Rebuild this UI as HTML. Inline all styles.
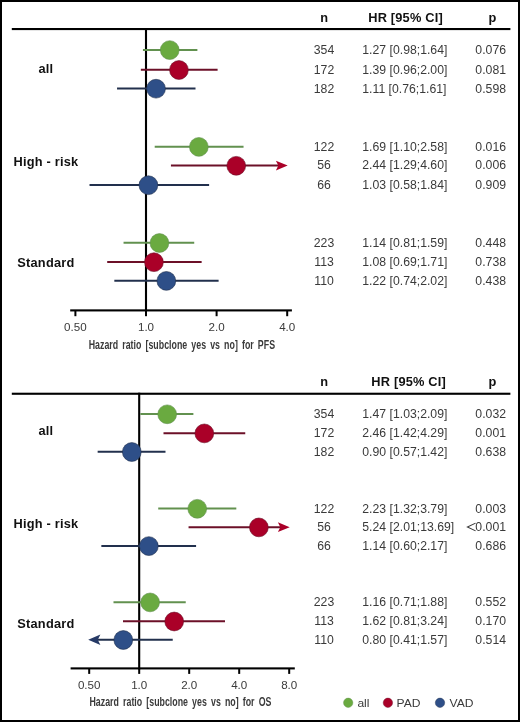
<!DOCTYPE html>
<html><head><meta charset="utf-8"><style>
html,body{margin:0;padding:0;background:#fff;}
body{width:520px;height:722px;overflow:hidden;position:relative;}
svg{position:absolute;left:0;top:0;font-family:"Liberation Sans", sans-serif;will-change:transform;}
.frame{position:absolute;left:0;top:0;width:516px;height:718px;border:2px solid #000;}
</style></head><body>
<svg width="520" height="722" viewBox="0 0 520 722">
<text x="324.20" y="21.70" font-size="12.8" text-anchor="middle" font-weight="bold" fill="#111" >n</text>
<text x="368.20" y="21.70" font-size="12.8" text-anchor="start" font-weight="bold" fill="#111" letter-spacing="0.2" >HR [95% CI]</text>
<text x="492.50" y="21.70" font-size="12.8" text-anchor="middle" font-weight="bold" fill="#111" >p</text>
<rect x="11.80" y="28.00" width="498.60" height="2.10" fill="#000"/>
<rect x="144.95" y="28.00" width="2.10" height="283.40" fill="#000"/>
<rect x="70.20" y="309.35" width="221.70" height="2.10" fill="#000"/>
<rect x="74.40" y="310.40" width="2.00" height="5.80" fill="#000"/>
<text x="75.40" y="330.80" font-size="11.6" text-anchor="middle" font-weight="normal" fill="#3a3a3a" >0.50</text>
<rect x="145.00" y="310.40" width="2.00" height="5.80" fill="#000"/>
<text x="146.00" y="330.80" font-size="11.6" text-anchor="middle" font-weight="normal" fill="#3a3a3a" >1.0</text>
<rect x="215.60" y="310.40" width="2.00" height="5.80" fill="#000"/>
<text x="216.60" y="330.80" font-size="11.6" text-anchor="middle" font-weight="normal" fill="#3a3a3a" >2.0</text>
<rect x="286.20" y="310.40" width="2.00" height="5.80" fill="#000"/>
<text x="287.20" y="330.80" font-size="11.6" text-anchor="middle" font-weight="normal" fill="#3a3a3a" >4.0</text>
<text x="0" y="0" font-size="13.6" font-weight="bold" fill="#3a3a3a" word-spacing="2.57" transform="translate(88.70,348.80) scale(0.65,1)">Hazard ratio [subclone yes vs no] for PFS</text>
<text x="45.90" y="72.80" font-size="12.8" text-anchor="middle" font-weight="bold" fill="#111" letter-spacing="0.2" >all</text>
<text x="45.90" y="166.40" font-size="12.8" text-anchor="middle" font-weight="bold" fill="#111" letter-spacing="0.2" >High - risk</text>
<text x="45.90" y="267.10" font-size="12.8" text-anchor="middle" font-weight="bold" fill="#111" letter-spacing="0.2" >Standard</text>
<line x1="143.94" y1="49.90" x2="196.39" y2="49.90" stroke="#62914f" stroke-width="2" stroke-linecap="square"/>
<circle cx="169.74" cy="50.10" r="9.4" fill="#6aaa40" stroke="#62914f" stroke-width="0.8" stroke-opacity="0.75"/>
<text x="0" y="0" font-size="11.9" text-anchor="middle" fill="#3a3a3a" transform="translate(324.00,53.70) scale(1.03,1)">354</text>
<text x="0" y="0" font-size="11.9" text-anchor="start" fill="#3a3a3a" transform="translate(362.30,53.70) scale(1.03,1)">1.27 [0.98;1.64]</text>
<text x="0" y="0" font-size="11.9" text-anchor="end" fill="#3a3a3a" transform="translate(506.00,53.70) scale(1.03,1)">0.076</text>
<line x1="141.84" y1="69.80" x2="216.60" y2="69.80" stroke="#6c1028" stroke-width="2" stroke-linecap="square"/>
<circle cx="178.94" cy="70.00" r="9.4" fill="#aa0028" stroke="#6c1028" stroke-width="0.8" stroke-opacity="0.75"/>
<text x="0" y="0" font-size="11.9" text-anchor="middle" fill="#3a3a3a" transform="translate(324.00,73.70) scale(1.03,1)">172</text>
<text x="0" y="0" font-size="11.9" text-anchor="start" fill="#3a3a3a" transform="translate(362.30,73.70) scale(1.03,1)">1.39 [0.96;2.00]</text>
<text x="0" y="0" font-size="11.9" text-anchor="end" fill="#3a3a3a" transform="translate(506.00,73.70) scale(1.03,1)">0.081</text>
<line x1="118.05" y1="88.50" x2="194.51" y2="88.50" stroke="#22304d" stroke-width="2" stroke-linecap="square"/>
<circle cx="156.03" cy="88.70" r="9.4" fill="#2e4f88" stroke="#22304d" stroke-width="0.8" stroke-opacity="0.75"/>
<text x="0" y="0" font-size="11.9" text-anchor="middle" fill="#3a3a3a" transform="translate(324.00,92.60) scale(1.03,1)">182</text>
<text x="0" y="0" font-size="11.9" text-anchor="start" fill="#3a3a3a" transform="translate(362.30,92.60) scale(1.03,1)">1.11 [0.76;1.61]</text>
<text x="0" y="0" font-size="11.9" text-anchor="end" fill="#3a3a3a" transform="translate(506.00,92.60) scale(1.03,1)">0.598</text>
<line x1="155.71" y1="146.70" x2="242.54" y2="146.70" stroke="#62914f" stroke-width="2" stroke-linecap="square"/>
<circle cx="198.85" cy="146.90" r="9.4" fill="#6aaa40" stroke="#62914f" stroke-width="0.8" stroke-opacity="0.75"/>
<text x="0" y="0" font-size="11.9" text-anchor="middle" fill="#3a3a3a" transform="translate(324.00,150.70) scale(1.03,1)">122</text>
<text x="0" y="0" font-size="11.9" text-anchor="start" fill="#3a3a3a" transform="translate(362.30,150.70) scale(1.03,1)">1.69 [1.10;2.58]</text>
<text x="0" y="0" font-size="11.9" text-anchor="end" fill="#3a3a3a" transform="translate(506.00,150.70) scale(1.03,1)">0.016</text>
<line x1="171.94" y1="165.60" x2="279.70" y2="165.60" stroke="#6c1028" stroke-width="2" stroke-linecap="square"/>
<path d="M287.70,165.60 L275.90,160.70 L278.30,165.60 L275.90,170.50 Z" fill="#aa0028"/>
<circle cx="236.25" cy="165.80" r="9.4" fill="#aa0028" stroke="#6c1028" stroke-width="0.8" stroke-opacity="0.75"/>
<text x="0" y="0" font-size="11.9" text-anchor="middle" fill="#3a3a3a" transform="translate(324.00,169.30) scale(1.03,1)">56</text>
<text x="0" y="0" font-size="11.9" text-anchor="start" fill="#3a3a3a" transform="translate(362.30,169.30) scale(1.03,1)">2.44 [1.29;4.60]</text>
<text x="0" y="0" font-size="11.9" text-anchor="end" fill="#3a3a3a" transform="translate(506.00,169.30) scale(1.03,1)">0.006</text>
<line x1="90.52" y1="185.00" x2="208.11" y2="185.00" stroke="#22304d" stroke-width="2" stroke-linecap="square"/>
<circle cx="148.41" cy="185.20" r="9.4" fill="#2e4f88" stroke="#22304d" stroke-width="0.8" stroke-opacity="0.75"/>
<text x="0" y="0" font-size="11.9" text-anchor="middle" fill="#3a3a3a" transform="translate(324.00,188.50) scale(1.03,1)">66</text>
<text x="0" y="0" font-size="11.9" text-anchor="start" fill="#3a3a3a" transform="translate(362.30,188.50) scale(1.03,1)">1.03 [0.58;1.84]</text>
<text x="0" y="0" font-size="11.9" text-anchor="end" fill="#3a3a3a" transform="translate(506.00,188.50) scale(1.03,1)">0.909</text>
<line x1="124.54" y1="242.80" x2="193.23" y2="242.80" stroke="#62914f" stroke-width="2" stroke-linecap="square"/>
<circle cx="159.45" cy="243.00" r="9.4" fill="#6aaa40" stroke="#62914f" stroke-width="0.8" stroke-opacity="0.75"/>
<text x="0" y="0" font-size="11.9" text-anchor="middle" fill="#3a3a3a" transform="translate(324.00,246.70) scale(1.03,1)">223</text>
<text x="0" y="0" font-size="11.9" text-anchor="start" fill="#3a3a3a" transform="translate(362.30,246.70) scale(1.03,1)">1.14 [0.81;1.59]</text>
<text x="0" y="0" font-size="11.9" text-anchor="end" fill="#3a3a3a" transform="translate(506.00,246.70) scale(1.03,1)">0.448</text>
<line x1="108.21" y1="262.00" x2="200.64" y2="262.00" stroke="#6c1028" stroke-width="2" stroke-linecap="square"/>
<circle cx="153.94" cy="262.20" r="9.4" fill="#aa0028" stroke="#6c1028" stroke-width="0.8" stroke-opacity="0.75"/>
<text x="0" y="0" font-size="11.9" text-anchor="middle" fill="#3a3a3a" transform="translate(324.00,265.70) scale(1.03,1)">113</text>
<text x="0" y="0" font-size="11.9" text-anchor="start" fill="#3a3a3a" transform="translate(362.30,265.70) scale(1.03,1)">1.08 [0.69;1.71]</text>
<text x="0" y="0" font-size="11.9" text-anchor="end" fill="#3a3a3a" transform="translate(506.00,265.70) scale(1.03,1)">0.738</text>
<line x1="115.33" y1="280.70" x2="217.61" y2="280.70" stroke="#22304d" stroke-width="2" stroke-linecap="square"/>
<circle cx="166.35" cy="280.90" r="9.4" fill="#2e4f88" stroke="#22304d" stroke-width="0.8" stroke-opacity="0.75"/>
<text x="0" y="0" font-size="11.9" text-anchor="middle" fill="#3a3a3a" transform="translate(324.00,284.80) scale(1.03,1)">110</text>
<text x="0" y="0" font-size="11.9" text-anchor="start" fill="#3a3a3a" transform="translate(362.30,284.80) scale(1.03,1)">1.22 [0.74;2.02]</text>
<text x="0" y="0" font-size="11.9" text-anchor="end" fill="#3a3a3a" transform="translate(506.00,284.80) scale(1.03,1)">0.438</text>
<text x="324.20" y="386.30" font-size="12.8" text-anchor="middle" font-weight="bold" fill="#111" >n</text>
<text x="371.30" y="386.30" font-size="12.8" text-anchor="start" font-weight="bold" fill="#111" letter-spacing="0.2" >HR [95% CI]</text>
<text x="492.50" y="386.30" font-size="12.8" text-anchor="middle" font-weight="bold" fill="#111" >p</text>
<rect x="11.80" y="392.70" width="498.60" height="2.10" fill="#000"/>
<rect x="138.15" y="392.70" width="2.10" height="276.70" fill="#000"/>
<rect x="70.60" y="667.35" width="224.20" height="2.10" fill="#000"/>
<rect x="88.20" y="668.40" width="2.00" height="5.50" fill="#000"/>
<text x="89.20" y="688.70" font-size="11.6" text-anchor="middle" font-weight="normal" fill="#3a3a3a" >0.50</text>
<rect x="138.20" y="668.40" width="2.00" height="5.50" fill="#000"/>
<text x="139.20" y="688.70" font-size="11.6" text-anchor="middle" font-weight="normal" fill="#3a3a3a" >1.0</text>
<rect x="188.20" y="668.40" width="2.00" height="5.50" fill="#000"/>
<text x="189.20" y="688.70" font-size="11.6" text-anchor="middle" font-weight="normal" fill="#3a3a3a" >2.0</text>
<rect x="238.20" y="668.40" width="2.00" height="5.50" fill="#000"/>
<text x="239.20" y="688.70" font-size="11.6" text-anchor="middle" font-weight="normal" fill="#3a3a3a" >4.0</text>
<rect x="288.20" y="668.40" width="2.00" height="5.50" fill="#000"/>
<text x="289.20" y="688.70" font-size="11.6" text-anchor="middle" font-weight="normal" fill="#3a3a3a" >8.0</text>
<text x="0" y="0" font-size="13.6" font-weight="bold" fill="#3a3a3a" word-spacing="2.57" transform="translate(89.50,706.10) scale(0.65,1)">Hazard ratio [subclone yes vs no] for OS</text>
<text x="45.90" y="434.70" font-size="12.8" text-anchor="middle" font-weight="bold" fill="#111" letter-spacing="0.2" >all</text>
<text x="45.90" y="527.70" font-size="12.8" text-anchor="middle" font-weight="bold" fill="#111" letter-spacing="0.2" >High - risk</text>
<text x="45.90" y="628.20" font-size="12.8" text-anchor="middle" font-weight="bold" fill="#111" letter-spacing="0.2" >Standard</text>
<line x1="141.33" y1="414.10" x2="192.38" y2="414.10" stroke="#62914f" stroke-width="2" stroke-linecap="square"/>
<circle cx="167.19" cy="414.30" r="9.4" fill="#6aaa40" stroke="#62914f" stroke-width="0.8" stroke-opacity="0.75"/>
<text x="0" y="0" font-size="11.9" text-anchor="middle" fill="#3a3a3a" transform="translate(324.00,417.90) scale(1.03,1)">354</text>
<text x="0" y="0" font-size="11.9" text-anchor="start" fill="#3a3a3a" transform="translate(362.30,417.90) scale(1.03,1)">1.47 [1.03;2.09]</text>
<text x="0" y="0" font-size="11.9" text-anchor="end" fill="#3a3a3a" transform="translate(506.00,417.90) scale(1.03,1)">0.032</text>
<line x1="164.49" y1="433.20" x2="244.25" y2="433.20" stroke="#6c1028" stroke-width="2" stroke-linecap="square"/>
<circle cx="204.33" cy="433.40" r="9.4" fill="#aa0028" stroke="#6c1028" stroke-width="0.8" stroke-opacity="0.75"/>
<text x="0" y="0" font-size="11.9" text-anchor="middle" fill="#3a3a3a" transform="translate(324.00,437.10) scale(1.03,1)">172</text>
<text x="0" y="0" font-size="11.9" text-anchor="start" fill="#3a3a3a" transform="translate(362.30,437.10) scale(1.03,1)">2.46 [1.42;4.29]</text>
<text x="0" y="0" font-size="11.9" text-anchor="end" fill="#3a3a3a" transform="translate(506.00,437.10) scale(1.03,1)">0.001</text>
<line x1="98.65" y1="451.80" x2="164.49" y2="451.80" stroke="#22304d" stroke-width="2" stroke-linecap="square"/>
<circle cx="131.80" cy="452.00" r="9.4" fill="#2e4f88" stroke="#22304d" stroke-width="0.8" stroke-opacity="0.75"/>
<text x="0" y="0" font-size="11.9" text-anchor="middle" fill="#3a3a3a" transform="translate(324.00,455.80) scale(1.03,1)">182</text>
<text x="0" y="0" font-size="11.9" text-anchor="start" fill="#3a3a3a" transform="translate(362.30,455.80) scale(1.03,1)">0.90 [0.57;1.42]</text>
<text x="0" y="0" font-size="11.9" text-anchor="end" fill="#3a3a3a" transform="translate(506.00,455.80) scale(1.03,1)">0.638</text>
<line x1="159.23" y1="508.60" x2="235.31" y2="508.60" stroke="#62914f" stroke-width="2" stroke-linecap="square"/>
<circle cx="197.25" cy="508.80" r="9.4" fill="#6aaa40" stroke="#62914f" stroke-width="0.8" stroke-opacity="0.75"/>
<text x="0" y="0" font-size="11.9" text-anchor="middle" fill="#3a3a3a" transform="translate(324.00,512.70) scale(1.03,1)">122</text>
<text x="0" y="0" font-size="11.9" text-anchor="start" fill="#3a3a3a" transform="translate(362.30,512.70) scale(1.03,1)">2.23 [1.32;3.79]</text>
<text x="0" y="0" font-size="11.9" text-anchor="end" fill="#3a3a3a" transform="translate(506.00,512.70) scale(1.03,1)">0.003</text>
<line x1="189.56" y1="527.20" x2="281.70" y2="527.20" stroke="#6c1028" stroke-width="2" stroke-linecap="square"/>
<path d="M289.70,527.20 L277.90,522.30 L280.30,527.20 L277.90,532.10 Z" fill="#aa0028"/>
<circle cx="258.88" cy="527.40" r="9.4" fill="#aa0028" stroke="#6c1028" stroke-width="0.8" stroke-opacity="0.75"/>
<text x="0" y="0" font-size="11.9" text-anchor="middle" fill="#3a3a3a" transform="translate(324.00,531.30) scale(1.03,1)">56</text>
<text x="0" y="0" font-size="11.9" text-anchor="start" fill="#3a3a3a" transform="translate(362.30,531.30) scale(1.03,1)">5.24 [2.01;13.69]</text>
<text x="0" y="0" font-size="11.9" text-anchor="end" fill="#3a3a3a" transform="translate(506.00,531.30) scale(1.03,1)">0.001</text>
<polyline points="475.6,523.10 467.4,527.00 475.6,530.90" fill="none" stroke="#3a3a3a" stroke-width="1.05" stroke-linejoin="miter"/>
<line x1="102.35" y1="545.90" x2="195.08" y2="545.90" stroke="#22304d" stroke-width="2" stroke-linecap="square"/>
<circle cx="148.85" cy="546.10" r="9.4" fill="#2e4f88" stroke="#22304d" stroke-width="0.8" stroke-opacity="0.75"/>
<text x="0" y="0" font-size="11.9" text-anchor="middle" fill="#3a3a3a" transform="translate(324.00,550.00) scale(1.03,1)">66</text>
<text x="0" y="0" font-size="11.9" text-anchor="start" fill="#3a3a3a" transform="translate(362.30,550.00) scale(1.03,1)">1.14 [0.60;2.17]</text>
<text x="0" y="0" font-size="11.9" text-anchor="end" fill="#3a3a3a" transform="translate(506.00,550.00) scale(1.03,1)">0.686</text>
<line x1="114.49" y1="602.20" x2="184.74" y2="602.20" stroke="#62914f" stroke-width="2" stroke-linecap="square"/>
<circle cx="150.11" cy="602.40" r="9.4" fill="#6aaa40" stroke="#62914f" stroke-width="0.8" stroke-opacity="0.75"/>
<text x="0" y="0" font-size="11.9" text-anchor="middle" fill="#3a3a3a" transform="translate(324.00,606.00) scale(1.03,1)">223</text>
<text x="0" y="0" font-size="11.9" text-anchor="start" fill="#3a3a3a" transform="translate(362.30,606.00) scale(1.03,1)">1.16 [0.71;1.88]</text>
<text x="0" y="0" font-size="11.9" text-anchor="end" fill="#3a3a3a" transform="translate(506.00,606.00) scale(1.03,1)">0.552</text>
<line x1="124.00" y1="621.30" x2="224.00" y2="621.30" stroke="#6c1028" stroke-width="2" stroke-linecap="square"/>
<circle cx="174.20" cy="621.50" r="9.4" fill="#aa0028" stroke="#6c1028" stroke-width="0.8" stroke-opacity="0.75"/>
<text x="0" y="0" font-size="11.9" text-anchor="middle" fill="#3a3a3a" transform="translate(324.00,625.00) scale(1.03,1)">113</text>
<text x="0" y="0" font-size="11.9" text-anchor="start" fill="#3a3a3a" transform="translate(362.30,625.00) scale(1.03,1)">1.62 [0.81;3.24]</text>
<text x="0" y="0" font-size="11.9" text-anchor="end" fill="#3a3a3a" transform="translate(506.00,625.00) scale(1.03,1)">0.170</text>
<line x1="96.20" y1="639.80" x2="171.74" y2="639.80" stroke="#22304d" stroke-width="2" stroke-linecap="square"/>
<path d="M88.20,639.80 L100.40,634.60 L97.80,639.80 L100.40,645.00 Z" fill="#263a66"/>
<circle cx="123.30" cy="640.00" r="9.4" fill="#2e4f88" stroke="#22304d" stroke-width="0.8" stroke-opacity="0.75"/>
<text x="0" y="0" font-size="11.9" text-anchor="middle" fill="#3a3a3a" transform="translate(324.00,643.75) scale(1.03,1)">110</text>
<text x="0" y="0" font-size="11.9" text-anchor="start" fill="#3a3a3a" transform="translate(362.30,643.75) scale(1.03,1)">0.80 [0.41;1.57]</text>
<text x="0" y="0" font-size="11.9" text-anchor="end" fill="#3a3a3a" transform="translate(506.00,643.75) scale(1.03,1)">0.514</text>
<circle cx="348.2" cy="702.8" r="4.7" fill="#6aaa40" stroke="#62914f" stroke-width="0.7" stroke-opacity="0.6"/>
<text x="0" y="0" font-size="11.2" text-anchor="start" fill="#3a3a3a" transform="translate(357.40,706.80) scale(1.08,1)">all</text>
<circle cx="387.9" cy="702.8" r="4.7" fill="#aa0028" stroke="#6c1028" stroke-width="0.7" stroke-opacity="0.6"/>
<text x="0" y="0" font-size="11.2" text-anchor="start" fill="#3a3a3a" transform="translate(396.60,706.80) scale(1.08,1)">PAD</text>
<circle cx="440.0" cy="702.8" r="4.7" fill="#2e4f88" stroke="#22304d" stroke-width="0.7" stroke-opacity="0.6"/>
<text x="0" y="0" font-size="11.2" text-anchor="start" fill="#3a3a3a" transform="translate(449.60,706.80) scale(1.08,1)">VAD</text>
</svg>
<div class="frame"></div>
</body></html>
